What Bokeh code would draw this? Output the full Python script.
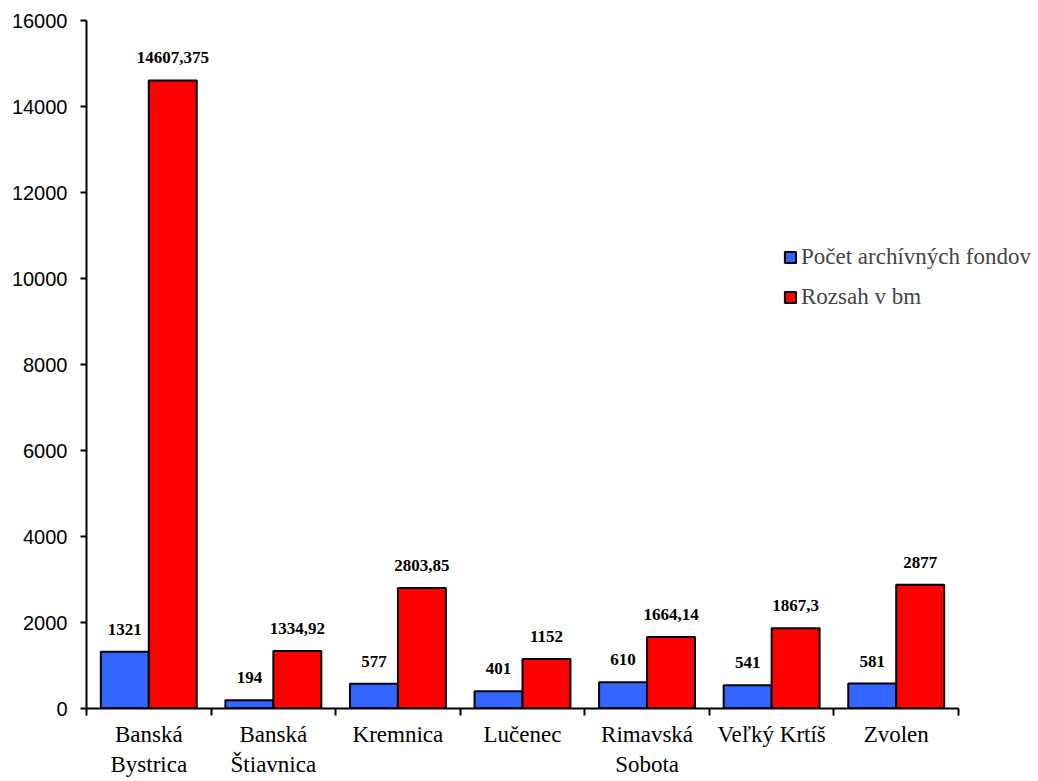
from bokeh.plotting import figure
from bokeh.models import ColumnDataSource, FixedTicker, LabelSet, Legend, LegendItem, Range1d
from bokeh.embed import file_html
from bokeh.resources import INLINE

categories = ["Banská\nBystrica", "Banská\nŠtiavnica", "Kremnica", "Lučenec",
              "Rimavská\nSobota", "Veľký Krtíš", "Zvolen"]
pocet = [1321, 194, 577, 401, 610, 541, 581]
rozsah = [14607.375, 1334.92, 2803.85, 1152, 1664.14, 1867.3, 2877]
pocet_labels = ["1321", "194", "577", "401", "610", "541", "581"]
rozsah_labels = ["14607,375", "1334,92", "2803,85", "1152", "1664,14", "1867,3", "2877"]
y_ticks = [0, 2000, 4000, 6000, 8000, 10000, 12000, 14000, 16000]
series_names = ["Počet archívných fondov", "Rozsah v bm"]

n = len(categories)
centers = [i + 0.5 for i in range(n)]
bw = 0.385
off = bw / 2

W, H = 1038, 781
left, top_b, bottom_b = 86, 20, 73
axis_right = 958
x_end = n * (W - left) / (axis_right - left)

src_b = ColumnDataSource(dict(x=[c - off for c in centers], top=pocet, lab=pocet_labels))
src_r = ColumnDataSource(dict(x=[c + off for c in centers], top=rozsah, lab=rozsah_labels))

p = figure(width=W, height=H, output_backend="svg", toolbar_location=None,
           x_range=Range1d(0, x_end), y_range=Range1d(0, 16000),
           min_border_left=left, min_border_right=0, min_border_top=top_b,
           min_border_bottom=bottom_b)
p.outline_line_color = None
p.xgrid.visible = False
p.ygrid.visible = False
p.background_fill_color = "white"

rb = p.vbar(x="x", top="top", width=bw, source=src_b, fill_color="#3366FF",
            line_color="black", line_width=2)
rr = p.vbar(x="x", top="top", width=bw, source=src_r, fill_color="#FF0000",
            line_color="black", line_width=2)

for src in (src_b, src_r):
    p.add_layout(LabelSet(x="x", y="top", text="lab", source=src, y_offset=17,
                          text_align="center", text_baseline="alphabetic",
                          text_font="Liberation Serif", text_font_style="bold",
                          text_font_size="17px", text_color="black"))

# y axis
ya = p.yaxis[0]
ya.ticker = FixedTicker(ticks=y_ticks)
ya.axis_line_width = 2
ya.axis_line_color = "black"
ya.major_tick_out = 6
ya.major_tick_in = 0
ya.major_tick_line_width = 2
ya.minor_tick_out = 0
ya.minor_tick_in = 0
ya.major_label_text_font = "Liberation Sans"
ya.major_label_text_font_size = "20px"
ya.major_label_text_color = "black"
ya.major_label_standoff = 13

# x axis
xa = p.xaxis[0]
xa.bounds = (0, n)
xa.ticker = FixedTicker(ticks=centers, minor_ticks=list(range(n + 1)))
xa.major_label_overrides = {c: lab for c, lab in zip(centers, categories)}
xa.axis_line_width = 2
xa.axis_line_color = "black"
xa.major_tick_out = 0
xa.major_tick_in = 0
xa.minor_tick_out = 7
xa.minor_tick_in = 0
xa.minor_tick_line_width = 2
xa.minor_tick_line_color = "black"
xa.major_label_text_font = "Liberation Serif"
xa.major_label_text_font_size = "23px"
xa.major_label_text_color = "black"
xa.major_label_standoff = 6

legend = Legend(items=[LegendItem(label=series_names[0], renderers=[rb]),
                       LegendItem(label=series_names[1], renderers=[rr])],
                location=(697, 398), orientation="vertical",
                label_text_font="Liberation Serif", label_text_font_size="23px",
                glyph_width=14, glyph_height=14, label_standoff=4, spacing=14,
                padding=0, margin=0, border_line_alpha=0, background_fill_alpha=0)
p.add_layout(legend, "center")

open("out.html", "w").write(file_html(p, INLINE))
